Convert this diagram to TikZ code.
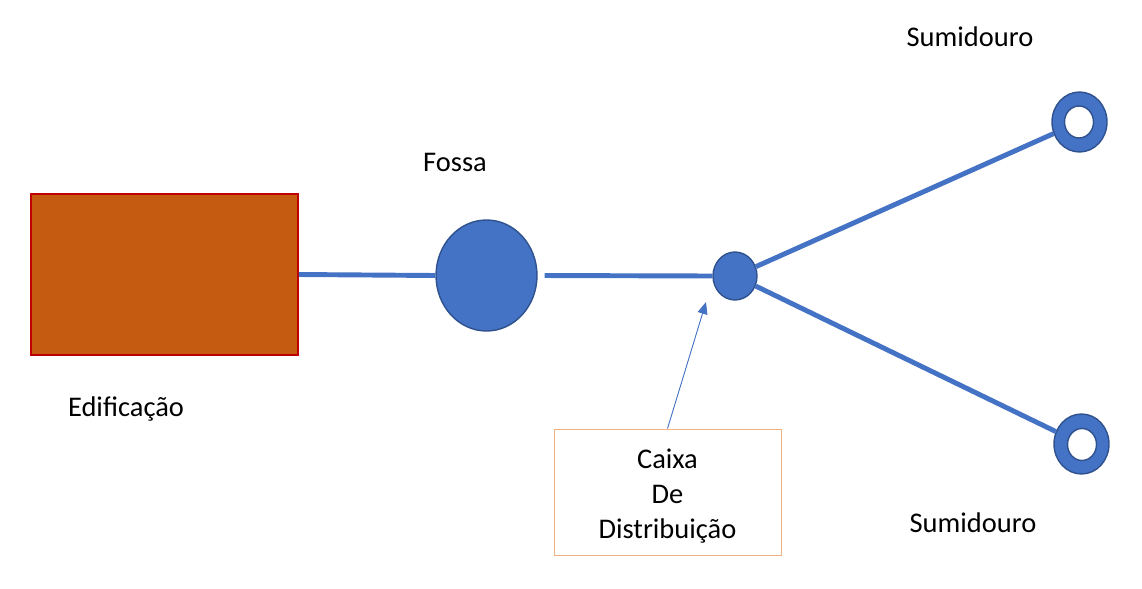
\documentclass[tikz,border=0pt]{standalone}
\usepackage{fontspec}
\setmainfont{Carlito}
\usetikzlibrary{arrows.meta, shapes.geometric}
\definecolor{tubo}{HTML}{4472C4}
\definecolor{contorno}{HTML}{2F528F}
\definecolor{tijolo}{HTML}{C55A11}
\definecolor{vermelho}{HTML}{C00000}
\definecolor{pessego}{HTML}{F4B183}
\tikzset{
    predio/.style={
        draw=vermelho,
        fill=tijolo,
        line width=1.1pt,
        minimum width=5.34cm,
        minimum height=3.22cm,
        inner sep=0pt
    },
    tanque/.style={
        ellipse,
        draw=contorno,
        fill=tubo,
        line width=0.8pt,
        inner sep=0pt
    },
    furo/.style={
        ellipse,
        draw=contorno,
        fill=white,
        line width=0.8pt,
        inner sep=0pt,
        minimum width=0.58cm,
        minimum height=0.64cm
    },
    legenda/.style={
        draw=pessego,
        line width=0.5pt,
        minimum width=4.54cm,
        minimum height=2.52cm,
        align=center
    },
    cano/.style={draw=tubo, line width=2.8pt},
    seta/.style={-{Triangle[length=0.24cm, width=0.2cm]}, draw=tubo, fill=tubo, line width=0.5pt},
    rotulo/.style={font=\fontsize{16.2}{19.9}\selectfont},
    every node/.style={font=\fontsize{16.2}{19.9}\selectfont}
}

\begin{document}
\begin{tikzpicture}[x=0.02cm,y=-0.02cm]
\useasboundingbox (0,0) rectangle (1142,588);

% Edificacao e fossa
\node[predio] (edif) at (164.5,274.5) {};
\node[tanque, minimum width=2.02cm, minimum height=2.22cm] (fossa) at (486.5,275.5) {};

% Caixa de distribuicao
\node[tanque, minimum width=0.88cm, minimum height=0.96cm] (cx) at (735,276) {};

% Sumidouros
\node[tanque, minimum width=1.1cm, minimum height=1.2cm] (sum1) at (1079.5,122) {};
\node[furo] (sum1in) at (1079,122) {};
\node[tanque, minimum width=1.1cm, minimum height=1.2cm] (sum2) at (1081.5,444) {};
\node[furo] (sum2in) at (1082,444.5) {};

% Canos
\draw[cano] (edif.east) -- (fossa.west);
\draw[cano, shorten <=4pt] (fossa.east) -- (cx.west);
\draw[cano] (cx) -- (sum1);
\draw[cano] (cx) -- (sum2);

% Textos
\node[rotulo] (lfossa) at (455,162) {Fossa};
\node[rotulo] (lsum1) at (970,37) {Sumidouro};
\node[rotulo] (lsum2) at (973,523) {Sumidouro};
\node[rotulo] (ledif) at (126,409) {Edificação};

\node[legenda] (dist) at (667.5,492) {\rule{0pt}{16pt}Caixa\\De\\Distribuição};
\coordinate (ponta) at (706,302);
\draw[seta] (dist.north) -- (ponta);
\end{tikzpicture}
\end{document}
